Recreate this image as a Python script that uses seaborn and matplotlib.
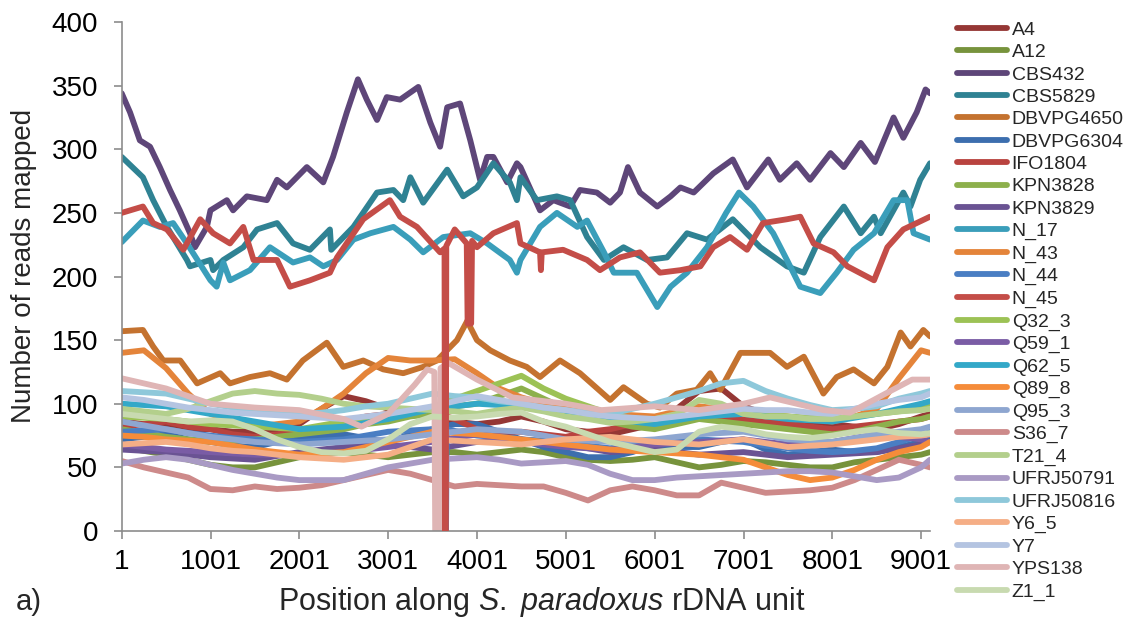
import numpy as np
import pandas as pd
import matplotlib
matplotlib.use("Agg")
import matplotlib.pyplot as plt
from matplotlib.lines import Line2D
import seaborn as sns

# strains in legend order
strains = ["A4", "A12", "CBS432", "CBS5829", "DBVPG4650", "DBVPG6304", "IFO1804",
           "KPN3828", "KPN3829", "N_17", "N_43", "N_44", "N_45", "Q32_3", "Q59_1",
           "Q62_5", "Q89_8", "Q95_3", "S36_7", "T21_4", "UFRJ50791", "UFRJ50816",
           "Y6_5", "Y7", "YPS138", "Z1_1"]

colors = ["#953735", "#77933C", "#5E4679", "#2F8293", "#C4722F", "#3C6EAE", "#B9433F",
          "#8DB04C", "#6A5393", "#3A9EBA", "#E4843A", "#4A7EC3", "#C44D48", "#9CC255",
          "#7A5CA5", "#33A8C8", "#F58C3A", "#8EA6D0", "#CD8A8A", "#B3CF8C", "#A99AC4",
          "#8EC8DA", "#F5AE86", "#B4C4E1", "#DFB5B5", "#C8DAB0"]

x_ticks = [1, 1001, 2001, 3001, 4001, 5001, 6001, 7001, 8001, 9001]
y_ticks = [0, 50, 100, 150, 200, 250, 300, 350, 400]

# ---- high-coverage strains, traced point by point ----
cbs432_pos = [1, 95, 205, 320, 430, 545, 655, 770, 826, 960, 1000, 1185, 1255, 1410, 1635,
              1750, 1860, 2085, 2270, 2380, 2535, 2660, 2760, 2875, 2985, 3135, 3340, 3475,
              3585, 3665, 3810, 3925, 4035, 4115, 4185, 4340, 4450, 4490, 4710, 4860, 5050,
              5160, 5350, 5500, 5610, 5700, 5835, 6030, 6180, 6290, 6440, 6660, 6880, 7040,
              7280, 7410, 7600, 7750, 7980, 8130, 8320, 8480, 8690, 8800, 8950, 9050, 9100]
cbs432_reads = [344, 329, 307, 302, 286, 268, 252, 234, 223, 239, 252, 260, 252, 263, 260,
                276, 270, 286, 274, 294, 329, 355, 339, 323, 341, 339, 349, 321,
                302, 333, 336, 307, 276, 294, 294, 274, 289, 286, 252, 260, 255,
                268, 266, 258, 266, 286, 266, 255, 263, 270, 266, 281, 292, 270,
                292, 276, 289, 276, 297, 286, 305, 290, 325, 309, 329, 347, 344]

cbs5829_pos = [1, 240, 355, 510, 735, 770, 1000, 1030, 1145, 1370, 1525, 1750, 1930, 2120,
               2345, 2360, 2610, 2875, 3060, 3170, 3250, 3395, 3665, 3845, 4000, 4185, 4370,
               4450, 4490, 4675, 4900, 5050, 5240, 5430, 5650, 5915, 6140, 6365, 6590, 6880,
               7190, 7490, 7680, 7865, 8130, 8320, 8470, 8545, 8800, 8880, 8990, 9100]
cbs5829_reads = [294, 278, 260, 239, 213, 208, 213, 205, 213, 223, 237, 242, 226, 221,
                 237, 221, 239, 266, 268, 260, 278, 258, 284, 263, 270, 289, 274,
                 260, 278, 260, 263, 260, 231, 213, 223, 213, 215, 234, 229, 245,
                 223, 208, 203, 231, 255, 234, 247, 234, 266, 255, 276, 289]

n17_pos = [1, 240, 430, 580, 735, 1000, 1070, 1145, 1220, 1445, 1670, 1930, 2120, 2270,
           2425, 2610, 2800, 3060, 3250, 3395, 3620, 3925, 4115, 4370, 4450, 4490, 4710,
           4900, 5130, 5240, 5430, 5540, 5800, 6030, 6180, 6365, 6590, 6805, 6950, 7110,
           7335, 7490, 7640, 7865, 8050, 8240, 8470, 8690, 8845, 8915, 9100]
n17_reads = [227, 244, 239, 242, 226, 197, 192, 211, 197, 205, 223, 211, 215, 208,
             213, 229, 234, 239, 229, 219, 231, 234, 226, 213, 203, 213, 239,
             250, 239, 244, 219, 203, 203, 176, 192, 203, 223, 250, 266, 255,
             234, 213, 192, 187, 203, 221, 234, 260, 260, 234, 229]

n45_pos = [1, 240, 355, 510, 695, 885, 1030, 1220, 1370, 1485, 1750, 1895, 2120, 2345,
           2425, 2720, 3020, 3135, 3325, 3585, 3635, 3640, 3650, 3655, 3750, 3885, 3895,
           3935, 3945, 4000, 4185, 4450, 4490, 4710, 4720, 4730, 4970, 5240, 5385, 5610,
           5835, 6060, 6290, 6515, 6660, 6850, 7040, 7220, 7490, 7640, 7790, 8015, 8170,
           8470, 8620, 8800, 9100]
n45_reads = [250, 255, 242, 237, 221, 245, 234, 226, 239, 213, 213, 192, 197, 203,
             215, 245, 260, 247, 239, 219, 222, 0, 0, 224, 237, 226, 163,
             163, 228, 223, 234, 242, 226, 219, 205, 219, 221, 213, 205, 215,
             219, 203, 205, 208, 223, 231, 221, 242, 245, 247, 226, 219, 208,
             197, 223, 237, 247]

dbvpg4650_pos = [1, 240, 355, 470, 660, 850, 1110, 1220, 1445, 1670, 1860, 2040, 2310,
                 2495, 2720, 2945, 3170, 3395, 3550, 3775, 3890, 4000, 4150, 4370, 4560,
                 4710, 4935, 5160, 5500, 5650, 5915, 6060, 6250, 6475, 6625, 6740, 6965,
                 7300, 7490, 7680, 7900, 8050, 8240, 8470, 8620, 8770, 8880, 9025, 9100]
dbvpg4650_reads = [157, 158, 145, 134, 134, 116, 124, 116, 121, 124, 119, 134, 148,
                   129, 134, 127, 124, 129, 134, 150, 165, 150, 142, 134, 129,
                   121, 134, 124, 103, 113, 100, 97, 108, 111, 124, 111, 140,
                   140, 129, 137, 108, 121, 127, 116, 129, 156, 145, 158, 153]

yps138_pos = [1, 500, 1000, 1500, 2000, 2500, 2700, 3000, 3300, 3440, 3520, 3530, 3580,
              3590, 3680, 4000, 4400, 5000, 5400, 6000, 6500, 7000, 7300, 7900, 8200,
              8600, 8900, 9100]
yps138_reads = [120, 112, 100, 97, 95, 88, 82, 92, 115, 127, 125, 0, 0,
                128, 132, 119, 105, 100, 95, 98, 95, 100, 105, 95, 93,
                108, 119, 119]

n44_pos = [1, 250, 500, 750, 1000, 1250, 1500, 1750, 2000, 2250, 2500, 2750, 3000, 3250,
           3500, 3635, 3642, 3652, 3660, 4000, 4250, 4500, 4750, 5000, 5250, 5500, 5750,
           6000, 6250, 6500, 6750, 7000, 7250, 7500, 7750, 8000, 8250, 8500, 8750, 9000, 9100]
n44_reads = [78, 79, 80, 77, 75, 73, 72, 71, 70, 71, 72, 75, 78, 79,
             80, 82, 0, 0, 80, 75, 74, 72, 71, 70, 67, 65, 68,
             70, 71, 72, 71, 70, 67, 65, 63, 62, 63, 65, 70, 75, 78]

# ---- low-coverage strains, read every 250 bp ----
grid_pos = [1, 250, 500, 750, 1000, 1250, 1500, 1750, 2000, 2250, 2500, 2750, 3000, 3250,
            3500, 3750, 4000, 4250, 4500, 4750, 5000, 5250, 5500, 5750, 6000, 6250, 6500,
            6750, 7000, 7250, 7500, 7750, 8000, 8250, 8500, 8750, 9000, 9100]
a4_reads = [86, 84, 82, 80, 80, 78, 78, 80, 84, 96, 106, 102, 96, 94, 90, 86, 84, 86, 90,
            86, 80, 78, 76, 80, 84, 96, 110, 112, 98, 92, 88, 86, 84, 82, 80, 84, 90, 92]
a12_reads = [66, 63, 60, 56, 52, 50, 50, 54, 58, 60, 62, 60, 58, 60, 62, 62, 60, 62, 64,
             62, 58, 56, 55, 56, 58, 54, 50, 52, 55, 54, 52, 50, 50, 54, 56, 58, 60, 62]
dbvpg6304_reads = [72, 74, 76, 72, 70, 67, 66, 70, 72, 74, 76, 73, 70, 76, 80, 84, 84, 78, 72,
                   66, 62, 58, 58, 62, 68, 66, 66, 70, 72, 64, 60, 62, 64, 62, 62, 66, 70, 72]
ifo1804_reads = [82, 84, 86, 82, 80, 76, 74, 76, 78, 82, 86, 90, 92, 94, 94, 88, 80, 78, 78,
                 76, 74, 78, 80, 84, 86, 88, 90, 89, 88, 86, 84, 82, 80, 82, 84, 86, 88, 90]
kpn3828_reads = [80, 77, 74, 72, 70, 71, 72, 74, 76, 78, 80, 84, 86, 90, 92, 98, 100, 106, 112,
                 104, 96, 90, 86, 82, 80, 84, 88, 86, 84, 82, 80, 78, 76, 78, 82, 86, 88, 90]
kpn3829_reads = [64, 63, 62, 60, 58, 57, 56, 59, 62, 64, 66, 67, 68, 66, 64, 67, 70, 71, 72,
                 70, 68, 65, 62, 63, 64, 62, 60, 61, 62, 60, 58, 59, 60, 61, 62, 65, 68, 70]
n43_reads = [140, 142, 128, 108, 92, 86, 82, 84, 86, 96, 108, 124, 136, 134, 134, 135, 124,
             112, 105, 100, 98, 95, 92, 91, 90, 94, 98, 96, 94, 92, 90, 88, 86, 90, 96, 120,
             142, 140]
q32_3_reads = [90, 89, 88, 86, 84, 83, 82, 81, 80, 83, 86, 88, 90, 93, 96, 104, 110, 116, 122,
               112, 104, 98, 92, 88, 86, 88, 90, 93, 95, 92, 90, 89, 88, 90, 92, 94, 96, 98]
q59_1_reads = [68, 66, 64, 63, 62, 61, 60, 60, 60, 61, 62, 64, 66, 68, 70, 73, 76, 73, 70,
               68, 66, 65, 64, 66, 68, 69, 70, 71, 72, 70, 68, 69, 70, 73, 76, 74, 72, 70]
q62_5_reads = [100, 99, 98, 95, 92, 89, 86, 83, 80, 81, 82, 85, 88, 92, 96, 98, 100, 99, 98,
               95, 92, 90, 88, 86, 84, 87, 90, 91, 92, 90, 88, 87, 86, 89, 92, 96, 100, 102]
q89_8_reads = [75, 74, 72, 71, 70, 67, 64, 62, 60, 61, 62, 66, 70, 74, 78, 77, 76, 74, 72,
               70, 68, 66, 64, 63, 62, 61, 60, 58, 56, 50, 44, 40, 42, 48, 56, 62, 66, 70]
q95_3_reads = [86, 83, 80, 77, 74, 72, 70, 69, 68, 69, 70, 71, 72, 74, 76, 78, 80, 79, 78,
               75, 72, 71, 70, 71, 72, 74, 76, 77, 78, 75, 72, 71, 70, 73, 76, 78, 80, 82]
s36_7_reads = [55, 50, 46, 42, 33, 32, 35, 33, 34, 36, 40, 44, 48, 45, 40, 35, 37, 36, 35,
               35, 30, 24, 32, 35, 32, 28, 28, 38, 34, 30, 31, 32, 34, 40, 48, 56, 52, 50]
t21_4_reads = [96, 94, 92, 96, 102, 108, 110, 108, 107, 104, 100, 98, 97, 96, 95, 94, 92, 95,
               97, 94, 90, 88, 85, 86, 88, 92, 103, 100, 92, 90, 90, 88, 88, 90, 92, 94, 95, 96]
ufrj50791_reads = [53, 56, 58, 56, 52, 48, 45, 42, 40, 40, 40, 45, 50, 53, 56, 57, 58, 56, 53,
                   54, 55, 52, 45, 40, 40, 42, 43, 44, 45, 46, 47, 47, 46, 43, 40, 42, 50, 56]
ufrj50816_reads = [110, 109, 108, 104, 100, 97, 94, 93, 92, 93, 95, 98, 100, 104, 108, 106,
                   105, 102, 100, 97, 95, 93, 92, 96, 100, 105, 110, 116, 118, 110, 104, 99,
                   95, 96, 98, 104, 108, 110]
y6_5_reads = [68, 69, 70, 68, 65, 63, 62, 60, 58, 57, 56, 58, 60, 66, 72, 71, 70, 69, 68,
              70, 72, 73, 74, 72, 70, 69, 68, 70, 72, 69, 66, 67, 68, 70, 72, 74, 75, 76]
y7_reads = [105, 103, 100, 97, 95, 93, 92, 91, 90, 89, 88, 90, 92, 95, 98, 102, 106, 103, 100,
            97, 95, 92, 90, 89, 88, 90, 92, 94, 96, 95, 95, 93, 92, 96, 100, 103, 105, 108]
z1_1_reads = [92, 90, 88, 86, 87, 86, 80, 72, 66, 62, 61, 63, 72, 84, 90, 89, 90, 92, 93,
              86, 82, 76, 70, 66, 62, 64, 78, 82, 80, 76, 74, 73, 75, 78, 80, 77, 76, 77]

# build long table
traces = {
    "A4": (grid_pos, a4_reads), "A12": (grid_pos, a12_reads),
    "CBS432": (cbs432_pos, cbs432_reads), "CBS5829": (cbs5829_pos, cbs5829_reads),
    "DBVPG4650": (dbvpg4650_pos, dbvpg4650_reads), "DBVPG6304": (grid_pos, dbvpg6304_reads),
    "IFO1804": (grid_pos, ifo1804_reads), "KPN3828": (grid_pos, kpn3828_reads),
    "KPN3829": (grid_pos, kpn3829_reads), "N_17": (n17_pos, n17_reads),
    "N_43": (grid_pos, n43_reads), "N_44": (n44_pos, n44_reads),
    "N_45": (n45_pos, n45_reads), "Q32_3": (grid_pos, q32_3_reads),
    "Q59_1": (grid_pos, q59_1_reads), "Q62_5": (grid_pos, q62_5_reads),
    "Q89_8": (grid_pos, q89_8_reads), "Q95_3": (grid_pos, q95_3_reads),
    "S36_7": (grid_pos, s36_7_reads), "T21_4": (grid_pos, t21_4_reads),
    "UFRJ50791": (grid_pos, ufrj50791_reads), "UFRJ50816": (grid_pos, ufrj50816_reads),
    "Y6_5": (grid_pos, y6_5_reads), "Y7": (grid_pos, y7_reads),
    "YPS138": (yps138_pos, yps138_reads), "Z1_1": (grid_pos, z1_1_reads),
}
frames = [pd.DataFrame({"pos": p, "reads": r, "strain": s}) for s, (p, r) in traces.items()]
df = pd.concat(frames, ignore_index=True)

# plot
sns.set_theme(style="white")
plt.rcParams["font.family"] = ["Liberation Sans", "DejaVu Sans"]
plt.rcParams["mathtext.fontset"] = "custom"
plt.rcParams["mathtext.it"] = "Liberation Sans:italic"
plt.rcParams["mathtext.rm"] = "Liberation Sans"
plt.rcParams["lines.solid_joinstyle"] = "round"
plt.rcParams["lines.solid_capstyle"] = "round"

fig, ax = plt.subplots(figsize=(11.3, 6.22), dpi=100)
fig.subplots_adjust(left=0.1077, right=0.823, bottom=0.1463, top=0.9646)

sns.lineplot(data=df, x="pos", y="reads", hue="strain", hue_order=strains,
             palette=colors, estimator=None, sort=False, linewidth=4.2,
             legend=False, ax=ax)
ax.lines[strains.index("N_45")].set_zorder(3)

ax.set_xlim(1, 9100)
ax.set_ylim(0, 400)
ax.set_xticks(x_ticks)
ax.set_xticklabels([str(t) for t in x_ticks])
ax.set_yticks(y_ticks)
ax.set_xlabel("")
ax.set_ylabel("")
for side in ["top", "right"]:
    ax.spines[side].set_visible(False)
for side in ["left", "bottom"]:
    ax.spines[side].set_color("#8C8C8C")
    ax.spines[side].set_linewidth(1.2)
ax.tick_params(axis="both", which="major", labelsize=20, colors="#8C8C8C",
               labelcolor="black", length=6, width=1.2, direction="out")
ax.tick_params(axis="y", pad=11, left=True)
ax.tick_params(axis="x", pad=7, bottom=True)

fig.text(0.021, 0.572, "Number of reads mapped", rotation=90, fontsize=20,
         ha="center", va="center")
fig.text(0.479, 0.032, r"Position along $\it{S.\ paradoxus}$ rDNA unit", fontsize=22,
         ha="center", va="center")
fig.text(0.014, 0.032, "a)", fontsize=21, ha="left", va="center")

handles = [Line2D([0], [0], color=c, lw=4.2) for c in colors]
fig.legend(handles, strains, loc="upper left", bbox_to_anchor=(0.847, 0.966),
           frameon=False, fontsize=14, handlelength=2.55, handletextpad=0.26,
           labelspacing=0.245, borderpad=0, borderaxespad=0)

fig.savefig("out.png", dpi=100)
